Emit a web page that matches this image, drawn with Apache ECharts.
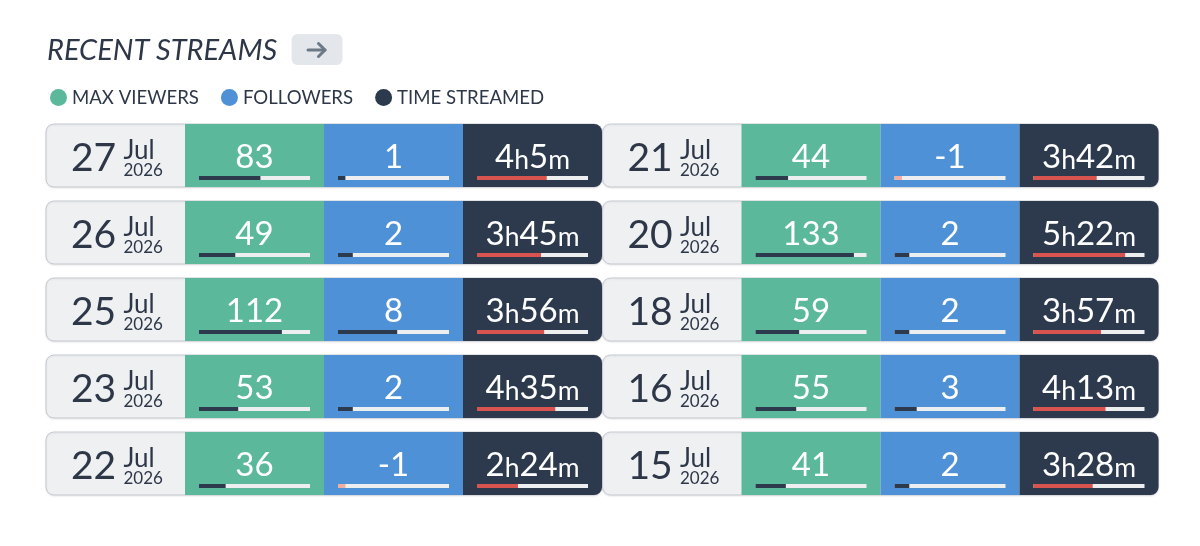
<!DOCTYPE html>
<html><head><meta charset="utf-8">
<script src="https://cdn.jsdelivr.net/npm/echarts@6/dist/echarts.min.js"></script>
<style>html,body{margin:0;padding:0;background:#fff}#c{width:1200px;height:546px}</style>
</head><body><div id="c"></div>
<script>
// ---- data ----
const days = ['27', '26', '25', '23', '22', '21', '20', '18', '16', '15'];
const months = ['Jul', 'Jul', 'Jul', 'Jul', 'Jul', 'Jul', 'Jul', 'Jul', 'Jul', 'Jul'];
const years = ['2026', '2026', '2026', '2026', '2026', '2026', '2026', '2026', '2026', '2026'];
const maxViewers = [83, 49, 112, 53, 36, 44, 133, 59, 55, 41];
const followers = [1, 2, 8, 2, -1, -1, 2, 2, 3, 2];
const minutesStreamed = [245, 225, 236, 275, 144, 222, 322, 237, 253, 208];
const scaleMax = [150, 15, 390];
const metricNames = ['MAX VIEWERS', 'FOLLOWERS', 'TIME STREAMED'];

// ---- style / layout ----
const FONT = 'Lato, "Noto Sans", sans-serif';
const TEXT = '#2d3748';
const cellColors = ['#5bb89b', '#4f91d6', '#2d3a4e'];
const fillColors = ['#2d3a4e', '#2d3a4e', '#d9534f'];
const negColor = '#f2ada3';
const trackColor = '#eceef0';
const panelX = [46, 602.5];
const colW = 139, rowTop0 = 124, pitch = 77, rowH = 63;
const metricData = [maxViewers, followers, minutesStreamed];

function fmt(m, v) {
  if (m === 2) return '{n|' + Math.floor(v / 60) + '}{u|h}{n|' + (v % 60) + '}{u|m}';
  return String(v);
}

const grid = [], xAxis = [], yAxis = [], series = [];
for (let p = 0; p < 2; p++) {
  for (let m = 0; m < 3; m++) {
    const idx = p * 3 + m;
    const slice = metricData[m].slice(p * 5, p * 5 + 5);
    const cats = days.slice(p * 5, p * 5 + 5);
    grid.push({ left: panelX[p] + colW * (m + 1) + 14, top: 139.5, width: 111, height: 385 });
    xAxis.push({ gridIndex: idx, type: 'value', min: 0, max: scaleMax[m], show: false });
    yAxis.push({ gridIndex: idx, type: 'category', data: cats, inverse: true, show: false });
    series.push({
      type: 'bar', name: 'track', xAxisIndex: idx, yAxisIndex: idx, silent: true,
      barWidth: 4, barGap: '-100%', z: 5,
      itemStyle: { color: trackColor },
      data: slice.map(() => scaleMax[m]),
      label: {
        show: true, position: 'inside', offset: [0, -20.5],
        color: '#fff', fontSize: 33, fontFamily: FONT,
        formatter: (prm) => fmt(m, slice[prm.dataIndex]),
        rich: {
          n: { fontSize: 33, fontFamily: FONT, color: '#fff', lineHeight: 33, verticalAlign: 'bottom' },
          u: { fontSize: 26.5, fontFamily: FONT, color: '#fff', lineHeight: 29, verticalAlign: 'bottom' }
        }
      }
    });
    series.push({
      type: 'bar', name: metricNames[m], xAxisIndex: idx, yAxisIndex: idx,
      barWidth: 4, barGap: '-100%', z: 6,
      data: slice.map(v => ({ value: Math.abs(v), itemStyle: { color: v < 0 ? negColor : fillColors[m] } }))
    });
  }
}

const graphic = [];
for (let r = 0; r < 10; r++) {
  const p = Math.floor(r / 5), i = r % 5;
  const x0 = panelX[p], y0 = rowTop0 + pitch * i;
  graphic.push({ type: 'rect', z: 0, silent: true,
    shape: { x: x0, y: y0, width: colW * 4, height: rowH, r: 8 },
    style: { fill: '#eef0f2', stroke: '#c5cad1', lineWidth: 1, shadowBlur: 2, shadowColor: 'rgba(0,0,0,0.08)', shadowOffsetY: 1 } });
  for (let m = 0; m < 3; m++) {
    graphic.push({ type: 'rect', z: 1, silent: true,
      shape: { x: x0 + colW * (m + 1), y: y0, width: colW, height: rowH, r: m === 2 ? [0, 8, 8, 0] : 0 },
      style: { fill: cellColors[m] } });
  }
  graphic.push({ type: 'text', z: 10, silent: true, x: x0 + 25, y: y0 + 34.5,
    style: { text: days[r], fontSize: 39, fontFamily: FONT, fill: TEXT, verticalAlign: 'middle', align: 'left' } });
  graphic.push({ type: 'text', z: 10, silent: true, x: x0 + 77.5, y: y0 + 26.6,
    style: { text: months[r], fontSize: 26, fontFamily: FONT, fill: TEXT, verticalAlign: 'middle', align: 'left' } });
  graphic.push({ type: 'text', z: 10, silent: true, x: x0 + 77.5, y: y0 + 47,
    style: { text: years[r], fontSize: 17, fontFamily: FONT, fill: TEXT, verticalAlign: 'middle', align: 'left' } });
}
// arrow button
graphic.push({ type: 'rect', z: 1, silent: true, shape: { x: 291.5, y: 34, width: 51, height: 31, r: 6 }, style: { fill: '#e3e7eb' } });
graphic.push({ type: 'polyline', z: 2, silent: true, shape: { points: [[308, 50], [325, 50]] }, style: { stroke: '#6c7886', lineWidth: 3, lineCap: 'round' } });
graphic.push({ type: 'polyline', z: 2, silent: true, shape: { points: [[318.5, 43.5], [325, 50], [318.5, 56.5]] }, style: { stroke: '#6c7886', lineWidth: 3, lineCap: 'round', lineJoin: 'round', fill: 'none' } });

const option = {
  animation: false,
  backgroundColor: '#fff',
  title: {
    text: 'RECENT STREAMS', left: 47, top: 36, padding: 0,
    textStyle: { fontFamily: FONT, fontStyle: 'italic', fontWeight: 'normal', fontSize: 29, color: TEXT }
  },
  legend: {
    left: 50, top: 88, padding: 0, itemWidth: 17, itemHeight: 17, itemGap: 22, icon: 'circle',
    textStyle: { fontFamily: FONT, fontSize: 18.6, color: TEXT },
    data: metricNames.map((n, k) => ({ name: n, itemStyle: { color: cellColors[k] } }))
  },
  grid, xAxis, yAxis, series, graphic
};
const chart = echarts.init(document.getElementById('c'));
chart.setOption(option);
</script></body></html>
